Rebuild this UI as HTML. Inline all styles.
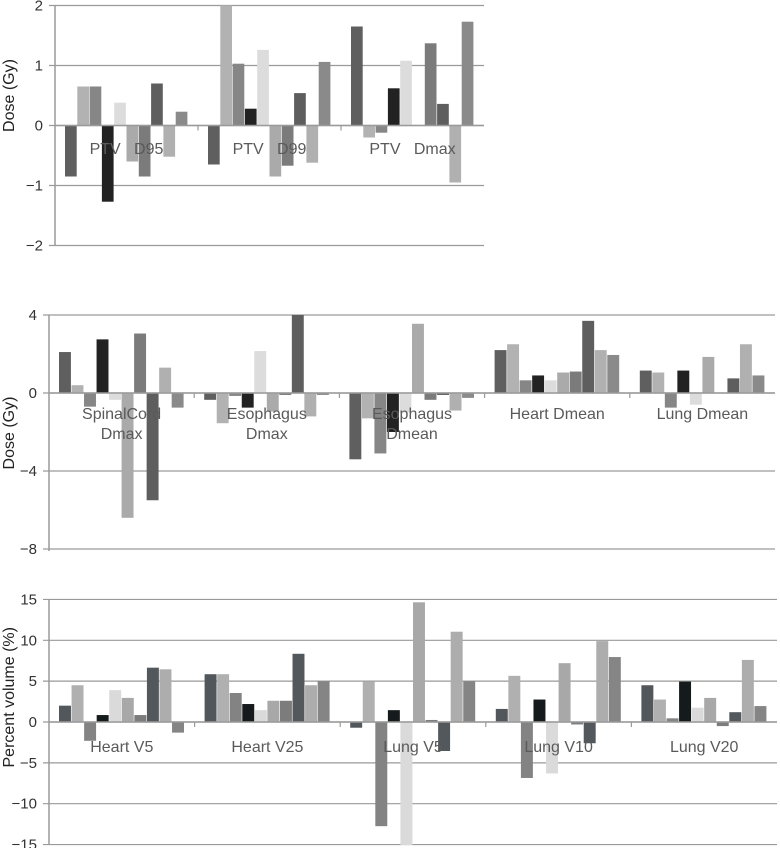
<!DOCTYPE html>
<html><head><meta charset="utf-8"><style>
html,body{margin:0;padding:0;background:#fff;}
svg{display:block;font-family:"Liberation Sans",sans-serif;}
</style></head><body>
<svg id="chart" width="780" height="848" viewBox="0 0 780 848" xmlns="http://www.w3.org/2000/svg"></svg>
<script>
// Panel 1 data
const cats1 = ["PTV\u00a0\u00a0\u00a0D95", "PTV\u00a0\u00a0\u00a0D99", "PTV\u00a0\u00a0\u00a0Dmax"];
const vals1 = [
  [-0.85, 0.65, 0.65, -1.27, 0.38, -0.6, -0.85, 0.7, -0.52, 0.23],
  [-0.65, 2.0, 1.03, 0.28, 1.26, -0.85, -0.67, 0.54, -0.62, 1.06],
  [1.65, -0.2, -0.12, 0.62, 1.08, 0, 1.37, 0.36, -0.95, 1.73]
];
const ticks1 = [2, 1, 0, -1, -2];
const tickLabels1 = ["2", "1", "0", "\u22121", "\u22122"];
// Panel 2 data
const cats2 = [["SpinalCord","Dmax"], ["Esophagus","Dmax"], ["Esophagus","Dmean"], ["Heart Dmean"], ["Lung Dmean"]];
const vals2 = [
  [2.1, 0.4, -0.7, 2.75, -0.35, -6.4, 3.05, -5.5, 1.3, -0.75],
  [-0.35, -1.55, -0.15, -0.75, 2.15, -0.95, -0.1, 4.0, -1.2, -0.1],
  [-3.4, -1.3, -3.1, -2.0, -1.0, 3.55, -0.35, -0.1, -0.9, -0.25],
  [2.2, 2.5, 0.65, 0.9, 0.65, 1.05, 1.1, 3.7, 2.2, 1.95],
  [1.15, 1.05, -0.75, 1.15, -0.6, 1.85, 0, 0.75, 2.5, 0.9]
];
const ticks2 = [4, 0, -4, -8];
const tickLabels2 = ["4", "0", "\u22124", "\u22128"];
// Panel 3 data
const cats3 = [["Heart V5"], ["Heart V25"], ["Lung V5"], ["Lung V10"], ["Lung V20"]];
const vals3 = [
  [2.0, 4.5, -2.3, 0.85, 3.9, 2.95, 0.85, 6.65, 6.45, -1.3],
  [5.85, 5.85, 3.55, 2.2, 1.45, 2.6, 2.6, 8.35, 4.5, 5.0],
  [-0.7, 4.95, -12.75, 1.45, -15.2, 14.65, 0.25, -3.55, 11.05, 5.0],
  [1.6, 5.65, -6.85, 2.75, -6.3, 7.2, -0.3, -2.6, 9.9, 7.95],
  [4.5, 2.75, 0.45, 4.95, 1.75, 2.95, -0.5, 1.2, 7.6, 1.95]
];
const ticks3 = [15, 10, 5, 0, -5, -10, -15];
const tickLabels3 = ["15", "10", "5", "0", "\u22125", "\u221210", "\u221215"];

const colorsA = ["#5f5f5f","#b2b2b2","#868686","#222222","#dcdcdc","#aaaaaa","#7b7b7b","#5e5e5e","#b0b0b0","#8a8a8a"];
const colorsB = ["#52575b","#b0b0b0","#838383","#151a1c","#dadada","#a8a8a8","#7c7c7c","#53585c","#adadad","#858585"];

const NS = "http://www.w3.org/2000/svg";
const svg = document.getElementById("chart");
function mk(tag, attrs, parent) {
  const e = document.createElementNS(NS, tag);
  for (const k in attrs) e.setAttribute(k, attrs[k]);
  (parent || svg).appendChild(e);
  return e;
}

function panel(cfg) {
  const g = mk("g", {});
  
  
  const yS = v => cfg.y0 - (v) * cfg.ppu;
  const x0 = cfg.xLeft, gw = (cfg.xRight - cfg.xLeft) / cfg.vals.length;
  cfg.ticks.forEach((t, i) => {
    const y = yS(t);
    const ln = mk("line", {x1: x0 - 6, x2: cfg.xRight, y1: y, y2: y, stroke: "#9a9a9a", "stroke-width": 1.2}, g);
    
    
    const tx = mk("text", {x: x0 - 12, y: y + 5, "text-anchor": "end", "font-size": 15, fill: "#333"}, g);
    tx.textContent = cfg.tickLabels[i];
    
    
  });
  const bw = (gw - 20) / 10;
  cfg.vals.forEach((arr, gi) => {
    arr.forEach((v, bi) => {
      const x = x0 + gi * gw + 10 + bi * bw;
      let top = yS(Math.max(0, v)), bot = yS(Math.min(0, v));
      top = Math.max(top, cfg.clipTop); bot = Math.min(bot, cfg.clipBot);
      const r = mk("rect", {x: x, y: top, width: bw - 0.6, height: Math.max(0, bot - top), fill: cfg.colors[bi]}, g);
      
      
    });
  });
  const zl = mk("line", {x1: x0, x2: cfg.xRight, y1: yS(0), y2: yS(0), stroke: "#9a9a9a", "stroke-width": 1.5}, g);
  
  
  for (let i = 1; i < cfg.vals.length; i++) {
    const tk = mk("line", {x1: x0 + i * gw, x2: x0 + i * gw, y1: yS(0), y2: yS(0) + 5, stroke: "#9a9a9a", "stroke-width": 1.2}, g);
    
    
  }
  const ax = mk("line", {x1: x0, x2: x0, y1: cfg.clipTop, y2: cfg.clipBot, stroke: "#9a9a9a", "stroke-width": 1.5}, g);
  
  
  cfg.cats.forEach((c, gi) => {
    const lines = Array.isArray(c) ? c : [c];
    lines.forEach((s, li) => {
      const t = mk("text", {x: x0 + gi * gw + gw / 2, y: cfg.labelY + li * 20, "text-anchor": "middle", "font-size": 16, fill: "#5a5a5a"}, g);
      t.textContent = s;
      
      
    });
  });
  const cy = (cfg.clipTop + cfg.clipBot) / 2 + cfg.titleShift;
  const yt = mk("text", {x: 0, y: 0, transform: "translate(14," + cy + ") rotate(-90)", "text-anchor": "middle", "font-size": 16, fill: "#222"}, g);
  yt.textContent = cfg.title;
  
  
}

panel({name: "ptv-dose-panel", vals: vals1, cats: cats1, ticks: ticks1, tickLabels: tickLabels1,
  xLeft: 55, xRight: 484, y0: 125.5, ppu: 60, clipTop: 5.5, clipBot: 245.5, labelY: 154,
  colors: colorsA, title: "Dose (Gy)", titleShift: -30});
panel({name: "oar-dose-panel", vals: vals2, cats: cats2, ticks: ticks2, tickLabels: tickLabels2,
  xLeft: 49, xRight: 775, y0: 393, ppu: 19.5, clipTop: 315, clipBot: 551, labelY: 419,
  colors: colorsA, title: "Dose (Gy)", titleShift: 0});
panel({name: "volume-panel", vals: vals3, cats: cats3, ticks: ticks3, tickLabels: tickLabels3,
  xLeft: 49, xRight: 777, y0: 722, ppu: 8.17, clipTop: 599.5, clipBot: 845, labelY: 752,
  colors: colorsB, title: "Percent volume (%)", titleShift: -25});
</script>
</body></html>
